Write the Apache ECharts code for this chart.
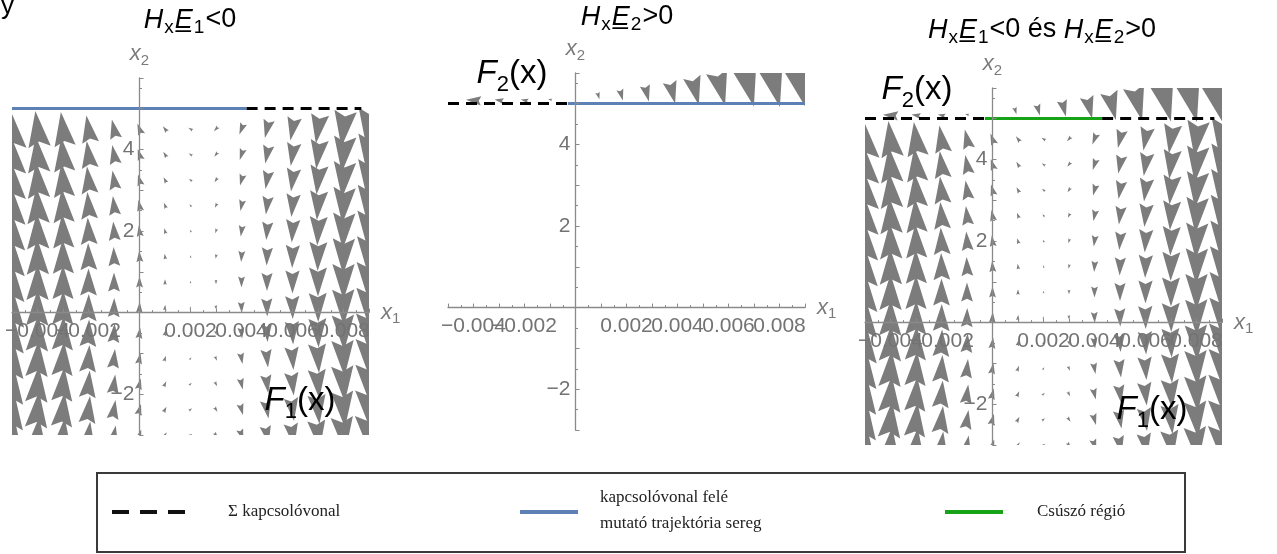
<!DOCTYPE html>
<html>
<head>
<meta charset="utf-8">
<script src="https://cdn.jsdelivr.net/npm/echarts@6/dist/echarts.min.js"></script>
<style>
html,body{margin:0;padding:0;background:#fff;}
#c{width:1277px;height:554px;}
</style>
</head>
<body>
<div id="c"></div>
<script>
// ---------------- data ----------------
const X1_MIN = -0.005, X1_MAX = 0.009;
const X2_MIN = -3, X2_MAX = 5.75;
const X_TICK_LABELS = [-0.004, -0.002, 0.002, 0.004, 0.006, 0.008];
const Y_TICK_LABELS = [-2, 2, 4];
const SWITCH_X2 = 5;

// sample grid of the F1 vector field (below the switching line)
const X1_COLS = [-0.005, -0.004, -0.003, -0.002, -0.001, 0, 0.001, 0.002, 0.003, 0.004, 0.005, 0.006, 0.007, 0.008, 0.009];
const X2_ROWS = [-3, -2.375, -1.75, -1.125, -0.5, 0.125, 0.75, 1.375, 2, 2.625, 3.25, 3.875, 4.5];
// F1: vertical component for each column, horizontal component for each row
const F1_V_BY_COL = [8, 7.2, 6.8, 5.4, 3.8, 2.2, 1.1, 0.5, -0.9, -2.2, -3.6, -4.6, -5.8, -7.2, -8];
const F1_U_BY_ROW = [0.7, 0.6, 0.5, 0.4, 0.25, 0.1, 0, -0.15, -0.3, -0.45, -0.6, -0.7, -0.85];

// F2 vector field (above the switching line)
const F2_X1 = [-0.0055, -0.004, -0.003, -0.002, -0.001, 0.0009, 0.0018, 0.0028, 0.0038, 0.0047, 0.0057, 0.0068, 0.0078, 0.0088];
const F2_X2 = [5.08, 5.08, 5.08, 5.08, 5.1, 5.19, 5.21, 5.25, 5.27, 5.31, 5.37, 5.42, 5.47, 5.47];
const F2_U  = [-5, -3, -1.8, -1.5, -0.8, 0.4, 0.6, 0.8, 1.1, 1.4, 1.7, 2.0, 2.2, 2.2];
const F2_V  = [0, 0.2, 0.3, 0.3, 0.2, -1.4, -2.2, -3.2, -4.4, -5.6, -6.8, -8, -9, -9];

// switching line pieces (x1 ranges, all at x2 = SWITCH_X2)
const P1_BLUE   = [-0.005, 0.0042];
const P1_DASHED = [0.0042, 0.0087];
const P2_DASHED = [-0.005, -0.0003];
const P2_BLUE   = [-0.0003, 0.009];
const P3_DASHED_L = [-0.005, -0.0003];
const P3_GREEN    = [-0.0003, 0.0043];
const P3_DASHED_R = [0.0043, 0.0087];

// ---------------- styles ----------------
const ARROW_COLOR = '#7c7c7c';
const ARROW_PX = 5;        // px per field unit
const ARROW_W = 0.62, ARROW_NOTCH = 0.15;
const AXIS_COLOR = '#8a8a8a';
const LABEL_COLOR = '#737373';
const TITLE_COLOR = '#7a7a7a';
const BLUE = '#5e81b5';
const GREEN = '#17a317';
const SANS = 'Liberation Sans, Arial, sans-serif';
const SERIF = 'Liberation Serif, DejaVu Serif, serif';

const F1_TABLE = [];
X2_ROWS.forEach((y, r) => X1_COLS.forEach((x, c) => F1_TABLE.push([x, y, F1_U_BY_ROW[r], F1_V_BY_COL[c]])));
const F2_TABLE = F2_X1.map((x, i) => [x, F2_X2[i], F2_U[i], F2_V[i]]);

function renderArrow(params, api) {
  const p = api.coord([api.value(0), api.value(1)]);
  const dx = api.value(2), dy = -api.value(3);
  const m = Math.hypot(dx, dy);
  const cs = params.coordSys;
  const clip = {type: 'rect', shape: {x: cs.x, y: cs.y, width: cs.width, height: cs.height}};
  const L = m * ARROW_PX;
  if (L < 2.5) {
    return {type: 'circle', shape: {cx: p[0], cy: p[1], r: 1.3}, style: {fill: ARROW_COLOR}, clipPath: clip};
  }
  const ux = dx / m, uy = dy / m, nx = -uy, ny = ux;
  const W = L * ARROW_W, N = L * ARROW_NOTCH;
  const tip = [p[0] + ux * L / 2, p[1] + uy * L / 2];
  const bx = p[0] - ux * L / 2, by = p[1] - uy * L / 2;
  const pts = [tip, [bx + nx * W / 2, by + ny * W / 2], [bx + ux * N, by + uy * N], [bx - nx * W / 2, by - ny * W / 2]];
  return {type: 'polygon', shape: {points: pts}, style: {fill: ARROW_COLOR}, clipPath: clip};
}

const GRIDS = [
  {left: 12, top: 78, width: 357, height: 357},
  {left: 448, top: 73, width: 357, height: 357},
  {left: 865, top: 88, width: 357, height: 357}
];
// axes cross at the origin: distance of x1=0 from the left edge and of x2=0 from the bottom edge
function zeroOffsetX(g) { return (0 - X1_MIN) / (X1_MAX - X1_MIN) * g.width; }
function zeroOffsetY(g) { return (0 - X2_MIN) / (X2_MAX - X2_MIN) * g.height; }

const axisNameRich = {
  x: {fontStyle: 'italic', fontSize: 22, color: TITLE_COLOR, fontFamily: SANS, lineHeight: 28, verticalAlign: 'middle'},
  s: {fontSize: 15, color: TITLE_COLOR, fontFamily: SANS, lineHeight: 28, verticalAlign: 'bottom'}
};

function xAx(i) {
  return {
    type: 'value', gridIndex: i, min: X1_MIN, max: X1_MAX, interval: 0.001, z: 10,
    position: 'bottom', offset: -zeroOffsetY(GRIDS[i]),
    axisLine: {onZero: false, lineStyle: {color: AXIS_COLOR, width: 1.3}},
    axisTick: {show: true, inside: true, length: 4, lineStyle: {color: AXIS_COLOR}},
    minorTick: {show: true, splitNumber: 2, length: 2.5, lineStyle: {color: AXIS_COLOR}},
    splitLine: {show: false},
    axisLabel: {
      color: LABEL_COLOR, fontSize: 21, fontFamily: SANS, margin: 8, showMinLabel: true, showMaxLabel: true,
      hideOverlap: false,
      formatter: v => {
        const k = Math.round(v * 1000);
        const hit = X_TICK_LABELS.some(t => Math.round(t * 1000) === k);
        if (!hit) return '';
        return (k < 0 ? '\u2212' : '') + (Math.abs(k) / 1000).toFixed(3);
      }
    },
    name: '{x|x}{s|1}', nameLocation: 'end', nameGap: 12,
    nameTextStyle: {rich: axisNameRich, verticalAlign: 'middle'}
  };
}
function yAx(i) {
  return {
    type: 'value', gridIndex: i, min: X2_MIN, max: X2_MAX, interval: 1, z: 10,
    position: 'left', offset: -zeroOffsetX(GRIDS[i]),
    axisLine: {onZero: false, lineStyle: {color: AXIS_COLOR, width: 1.3}},
    axisTick: {show: true, inside: true, length: 4, lineStyle: {color: AXIS_COLOR}},
    minorTick: {show: true, splitNumber: 2, length: 2.5, lineStyle: {color: AXIS_COLOR}},
    splitLine: {show: false},
    axisLabel: {
      color: LABEL_COLOR, fontSize: 21, fontFamily: SANS, margin: 5, showMaxLabel: false,
      formatter: v => Y_TICK_LABELS.indexOf(Math.round(v)) >= 0 && Math.abs(v - Math.round(v)) < 1e-9 ? ((v < 0 ? '\u2212' : '') + Math.abs(v)) : ''
    },
    name: '{x|x}{s|2}', nameLocation: 'end', nameGap: 10,
    nameTextStyle: {rich: axisNameRich, align: 'center'}
  };
}

function arrows(i, table, name) {
  return {type: 'custom', name, xAxisIndex: i, yAxisIndex: i, z: 2, clip: true, silent: true,
    renderItem: renderArrow, data: table, animation: false};
}
function seg(i, range, color, dashed) {
  return {type: 'line', xAxisIndex: i, yAxisIndex: i, z: 5, showSymbol: false, symbol: 'none', silent: true,
    data: [[range[0], SWITCH_X2], [range[1], SWITCH_X2]],
    lineStyle: {color, width: 3, type: dashed ? [11, 7] : 'solid', cap: 'butt'}, animation: false};
}

const titleRich = {
  i: {fontStyle: 'italic', fontSize: 27, color: TITLE_COLOR, fontFamily: SANS, lineHeight: 34, verticalAlign: 'middle'},
  s: {fontSize: 19, color: TITLE_COLOR, fontFamily: SANS, lineHeight: 34, verticalAlign: 'bottom', padding: [0, 1, 0, 1]},
  n: {fontSize: 27, color: TITLE_COLOR, fontFamily: SANS, lineHeight: 34, verticalAlign: 'middle'}
};
const fRich = {
  f: {fontStyle: 'italic', fontSize: 33, color: '#000', fontFamily: SANS, lineHeight: 44, verticalAlign: 'middle'},
  s: {fontSize: 22, color: '#000', fontFamily: SANS, lineHeight: 44, verticalAlign: 'bottom'},
  n: {fontSize: 33, color: '#000', fontFamily: SANS, lineHeight: 44, verticalAlign: 'middle'}
};
function txt(x, y, text, rich, align) {
  return {type: 'text', x, y, z: 50, style: {text, rich, align: align || 'center', verticalAlign: 'middle'}};
}
const E1 = '{i|H}{s|x}{i|E\u0332}{s|1}';
const E2 = '{i|H}{s|x}{i|E\u0332}{s|2}';

const legendText = {fontFamily: SERIF, fontSize: 17, fill: '#222'};

const option = {
  animation: false,
  backgroundColor: '#fff',
  grid: GRIDS.map(g => Object.assign({containLabel: false, outerBoundsMode: 'none'}, g)),
  xAxis: [xAx(0), xAx(1), xAx(2)],
  yAxis: [yAx(0), yAx(1), yAx(2)],
  series: [
    arrows(0, F1_TABLE, 'F1'),
    seg(0, P1_BLUE, BLUE, false),
    seg(0, P1_DASHED, '#000', true),
    arrows(1, F2_TABLE, 'F2'),
    seg(1, P2_DASHED, '#000', true),
    seg(1, P2_BLUE, BLUE, false),
    arrows(2, F1_TABLE, 'F1'),
    arrows(2, F2_TABLE, 'F2'),
    seg(2, P3_DASHED_L, '#000', true),
    seg(2, P3_GREEN, GREEN, false),
    seg(2, P3_DASHED_R, '#000', true)
  ],
  graphic: [
    {type: 'text', x: 1, y: -6, z: 50, style: {text: 'y', fontSize: 26, fontFamily: SANS, fill: '#000'}},
    txt(190, 20, E1 + '{n|<0}', titleRich),
    txt(627, 17, E2 + '{n|>0}', titleRich),
    txt(1042, 30, E1 + '{n|<0 és }' + E2 + '{n|>0}', titleRich),
    txt(300, 401, '{f|F}{s|1}{n|(x)}', fRich),
    txt(512, 74, '{f|F}{s|2}{n|(x)}', fRich),
    txt(917, 90, '{f|F}{s|2}{n|(x)}', fRich),
    txt(1152, 410, '{f|F}{s|1}{n|(x)}', fRich),
    // legend box
    {type: 'rect', z: 50, shape: {x: 97, y: 473, width: 1088, height: 79}, style: {fill: 'none', stroke: '#3a3a3a', lineWidth: 2}},
    {type: 'line', z: 50, shape: {x1: 112, y1: 512, x2: 186, y2: 512}, style: {stroke: '#111', lineWidth: 4, lineDash: [17, 11]}},
    {type: 'text', z: 50, x: 228, y: 512, style: Object.assign({text: '\u03a3 kapcsolóvonal', verticalAlign: 'middle'}, legendText)},
    {type: 'line', z: 50, shape: {x1: 520, y1: 512, x2: 578, y2: 512}, style: {stroke: BLUE, lineWidth: 4}},
    {type: 'text', z: 50, x: 600, y: 511, style: Object.assign({text: 'kapcsolóvonal felé\nmutató trajektória sereg', verticalAlign: 'middle', lineHeight: 26}, legendText)},
    {type: 'line', z: 50, shape: {x1: 945, y1: 512, x2: 1003, y2: 512}, style: {stroke: GREEN, lineWidth: 4}},
    {type: 'text', z: 50, x: 1037, y: 512, style: Object.assign({text: 'Csúszó régió', verticalAlign: 'middle'}, legendText)}
  ]
};

const chart = echarts.init(document.getElementById('c'), null, {renderer: 'canvas'});
chart.setOption(option);
</script>
</body>
</html>
